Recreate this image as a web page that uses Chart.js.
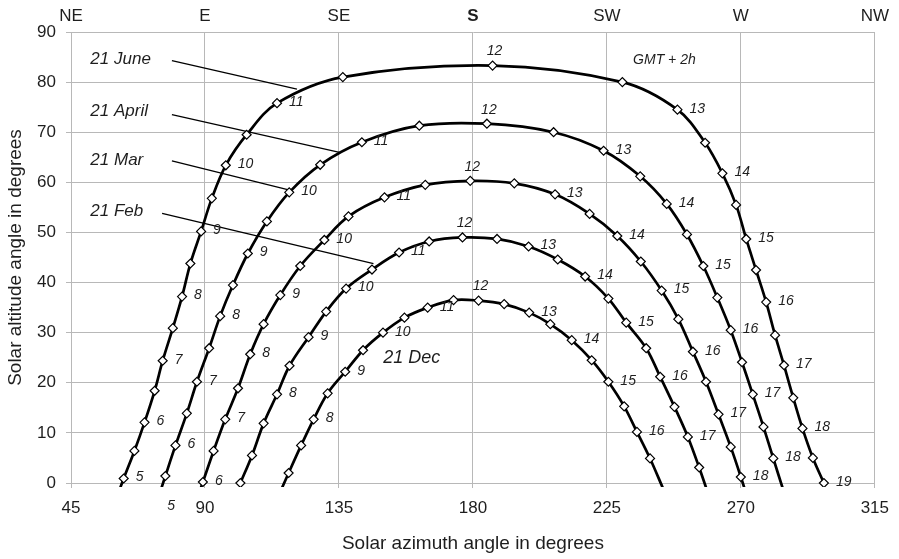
<!DOCTYPE html>
<html><head><meta charset="utf-8">
<script src="https://cdn.jsdelivr.net/npm/chart.js@4.4.1/dist/chart.umd.min.js"></script>
<style>html,body{margin:0;padding:0;background:#fff;}#wrap{width:899px;height:559px;}</style>
</head><body><div id="wrap"><canvas id="c" width="899" height="559"></canvas></div>
<script>
// ---- tick labels ----
const xTickValues = [45, 90, 135, 180, 225, 270, 315];
const directionLabels = ['NE', 'E', 'SE', 'S', 'SW', 'W', 'NW'];
const yTickValues = [0, 10, 20, 30, 40, 50, 60, 70, 80, 90];

// ---- series: azimuth (deg), altitude (deg), hour labels (GMT+2, every 30 min) ----
const juneAz   = [59.3, 62.7, 66.3, 69.7, 73.1, 75.8, 79.2, 82.3, 85.1, 88.7, 92.3, 97.0, 104.0, 114.2, 136.3, 186.6, 230.2, 248.7, 258.0, 263.8, 268.4, 271.8, 275.1, 278.5, 281.5, 284.5, 287.6, 290.7, 294.2, 297.9];
const juneAlt  = [-4.6, 0.9, 6.4, 12.1, 18.4, 24.4, 30.9, 37.2, 43.8, 50.2, 56.8, 63.4, 69.5, 75.8, 81.0, 83.3, 80.0, 74.5, 67.9, 61.8, 55.5, 48.7, 42.5, 36.1, 29.5, 23.5, 17.0, 10.9, 5.0, 0.0];
const juneHours = ['', '5', '', '6', '', '7', '', '8', '', '9', '', '10', '', '11', '', '12', '', '13', '', '14', '', '15', '', '16', '', '17', '', '18', '', '19'];

const aprilAz  = [73.3, 76.7, 80.1, 83.9, 87.3, 91.4, 95.1, 99.4, 104.4, 110.8, 118.3, 128.7, 142.7, 162.0, 184.7, 207.1, 223.9, 236.2, 245.1, 251.9, 257.4, 262.1, 266.6, 270.4, 274.0, 277.6, 280.9, 284.3];
const aprilAlt = [-4.8, 1.4, 7.5, 13.9, 20.2, 26.9, 33.3, 39.5, 45.8, 52.2, 58.0, 63.5, 68.0, 71.3, 71.7, 70.0, 66.3, 61.2, 55.7, 49.6, 43.3, 37.0, 30.5, 24.1, 17.7, 11.2, 4.9, -1.5];
const aprilHours = ['5', '', '6', '', '7', '', '8', '', '9', '', '10', '', '11', '', '12', '', '13', '', '14', '', '15', '', '16', '', '17', '', '18', ''];

const marchAz  = [85.8, 89.3, 92.9, 96.8, 101.1, 105.2, 109.7, 115.3, 122.0, 130.1, 138.2, 150.3, 164.0, 179.1, 193.9, 207.6, 219.2, 228.5, 236.4, 243.4, 249.0, 253.9, 258.3, 262.5, 266.6, 270.0, 273.4];
const marchAlt = [-5.8, 0.2, 6.4, 12.7, 18.9, 25.7, 31.7, 37.5, 43.3, 48.5, 53.2, 57.0, 59.5, 60.3, 59.8, 57.6, 53.7, 49.3, 44.2, 38.4, 32.7, 26.2, 20.2, 13.7, 7.2, 1.2, -5.2];
const marchHours = ['', '6', '', '7', '', '8', '', '9', '', '10', '', '11', '', '12', '', '13', '', '14', '', '15', '', '16', '', '17', '', '18', ''];

const febAz    = [101.9, 105.8, 109.7, 114.2, 118.4, 124.8, 130.7, 137.4, 146.1, 155.2, 165.3, 176.5, 188.1, 198.7, 208.5, 217.7, 225.5, 231.5, 238.2, 242.9, 247.7, 252.2, 256.0, 259.5];
const febAlt   = [0.0, 5.5, 11.9, 17.7, 23.4, 29.1, 34.2, 38.8, 42.6, 46.0, 48.2, 49.0, 48.7, 47.2, 44.6, 41.2, 36.8, 32.0, 26.9, 21.2, 15.2, 9.2, 3.1, -3.0];
const febHours = ['', '', '', '8', '', '9', '', '10', '', '11', '', '12', '', '13', '', '14', '', '15', '', '16', '', '17', '', ''];

const decAz    = [114.0, 118.1, 122.3, 126.5, 131.2, 137.1, 143.1, 149.8, 157.0, 164.8, 173.5, 181.9, 190.5, 198.9, 206.0, 213.2, 219.9, 225.5, 230.8, 235.1, 239.5, 243.8];
const decAlt   = [-3.5, 2.0, 7.5, 12.7, 17.9, 22.2, 26.5, 30.0, 33.0, 35.0, 36.5, 36.4, 35.7, 34.0, 31.7, 28.5, 24.5, 20.2, 15.3, 10.2, 4.9, -1.0];
const decHours = ['', '', '', '8', '', '9', '', '10', '', '11', '', '12', '', '13', '', '14', '', '15', '', '16', '', ''];

// ---- annotation texts and leader lines (data coordinates) ----
const noteTexts = ['21 June', '21 April', '21 Mar', '21 Feb', '21 Dec', 'GMT + 2h'];
const noteAz    = [51.5, 51.5, 51.5, 51.5, 149.9, 233.8];
const noteAlt   = [84.5, 74.1, 64.4, 54.2, 24.9, 84.3];
const leaderStartAz  = [78.9, 78.9, 78.9, 75.6];
const leaderStartAlt = [84.3, 73.5, 64.3, 53.8];
const leaderEndAz    = [120.9, 135.2, 118.1, 146.6];
const leaderEndAlt   = [78.6, 66.0, 58.5, 43.8];

const FONT = '"Liberation Sans", Arial, Helvetica, sans-serif';
const TXT = '#1e1e1e';
const GRID = '#b8b8b8';

function pts(az, alt) { return az.map((a, i) => ({ x: a, y: alt[i] })); }

const curveDefs = [
  { name: '21 June', az: juneAz, alt: juneAlt, hours: juneHours },
  { name: '21 April', az: aprilAz, alt: aprilAlt, hours: aprilHours },
  { name: '21 Mar', az: marchAz, alt: marchAlt, hours: marchHours },
  { name: '21 Feb', az: febAz, alt: febAlt, hours: febHours },
  { name: '21 Dec', az: decAz, alt: decAlt, hours: decHours }
];

const datasets = curveDefs.map(c => ({
  label: c.name,
  data: pts(c.az, c.alt),
  showLine: true,
  borderColor: '#000',
  borderWidth: 2.7,
  tension: 0.35,
  pointStyle: 'rectRot',
  pointRadius: ctx => (ctx.raw && ctx.raw.y < 0 ? 0 : 4.5),
  pointBorderWidth: 1.2,
  pointBackgroundColor: '#fff',
  pointBorderColor: '#000',
  clip: { left: 5, top: 5, right: 5, bottom: 4 }
}));

leaderStartAz.forEach((a, i) => {
  datasets.push({
    label: 'leader' + i,
    data: [{ x: a, y: leaderStartAlt[i] }, { x: leaderEndAz[i], y: leaderEndAlt[i] }],
    showLine: true,
    borderColor: '#000',
    borderWidth: 1.3,
    pointRadius: 0,
    tension: 0
  });
});

const labelPlugin = {
  id: 'labels',
  afterDatasetsDraw(chart) {
    const ctx = chart.ctx;
    const xs = chart.scales.x, ys = chart.scales.y;
    ctx.save();
    ctx.fillStyle = TXT;
    ctx.textBaseline = 'middle';
    // hour labels
    ctx.font = 'italic 14px ' + FONT;
    curveDefs.forEach((c, di) => {
      const meta = chart.getDatasetMeta(di);
      c.hours.forEach((h, j) => {
        if (!h) return;
        const el = meta.data[j];
        if (h === '12') {
          ctx.textAlign = 'center';
          ctx.fillText(h, el.x + 2, el.y - 14);
        } else {
          ctx.textAlign = 'left';
          ctx.fillText(h, el.x + 12, el.y - 1);
        }
      });
    });
    // notes
    noteTexts.forEach((t, i) => {
      ctx.textAlign = 'left';
      if (t.startsWith('GMT')) ctx.font = 'italic 14px ' + FONT;
      else if (t === '21 Dec') ctx.font = 'italic 18px ' + FONT;
      else ctx.font = 'italic 17px ' + FONT;
      ctx.fillText(t, xs.getPixelForValue(noteAz[i]), ys.getPixelForValue(noteAlt[i]));
    });
    ctx.restore();
  }
};

Chart.defaults.font.family = FONT;
Chart.defaults.color = TXT;

new Chart(document.getElementById('c'), {
  type: 'scatter',
  data: { datasets },
  options: {
    responsive: false,
    devicePixelRatio: 1,
    animation: false,
    layout: { padding: { left: 0, right: 24, top: 0, bottom: 0 } },
    plugins: { legend: { display: false }, tooltip: { enabled: false } },
    scales: {
      x: {
        type: 'linear', position: 'bottom', min: 45, max: 315,
        afterBuildTicks: s => { s.ticks = xTickValues.map(v => ({ value: v })); },
        afterFit: s => { s.height = 76; },
        ticks: { font: { size: 17 }, color: TXT, padding: 10 },
        grid: { color: GRID, lineWidth: 1, tickLength: 5 },
        border: { color: GRID },
        title: { display: true, text: 'Solar azimuth angle in degrees', font: { size: 19 }, color: TXT, padding: { top: 4, bottom: 4 } }
      },
      xTop: {
        type: 'linear', position: 'top', min: 45, max: 315,
        afterBuildTicks: s => { s.ticks = xTickValues.map(v => ({ value: v })); },
        afterFit: s => { s.height = 32; },
        ticks: {
          callback: v => directionLabels[xTickValues.indexOf(v)],
          font: ctx => ({ size: 17, weight: (ctx.tick && ctx.tick.value === 180) ? 'bold' : 'normal' }),
          color: TXT, padding: -3
        },
        grid: { display: false },
        border: { display: false }
      },
      y: {
        type: 'linear', position: 'left', min: 0, max: 90,
        afterBuildTicks: s => { s.ticks = yTickValues.map(v => ({ value: v })); },
        afterFit: s => { s.width = 71; },
        ticks: { font: { size: 17 }, color: TXT, padding: 10 },
        grid: { color: GRID, lineWidth: 1, tickLength: 5 },
        border: { color: GRID },
        title: { display: true, text: 'Solar altitude angle in degrees', font: { size: 19 }, color: TXT, padding: { top: 4, bottom: 4 } }
      }
    }
  },
  plugins: [labelPlugin]
});
</script>
</body></html>
